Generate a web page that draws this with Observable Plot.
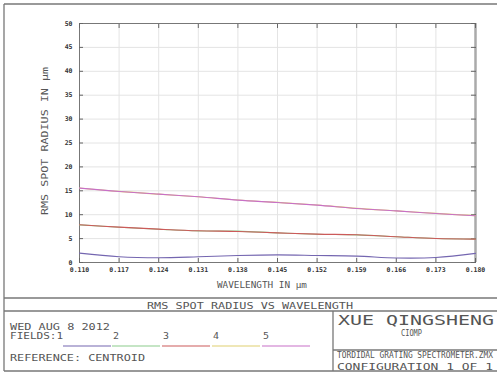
<!DOCTYPE html>
<html><head><meta charset="utf-8">
<script src="https://cdn.jsdelivr.net/npm/d3@7"></script>
<script src="https://cdn.jsdelivr.net/npm/@observablehq/plot@0.6"></script>
<style>body{margin:0;background:#fff} svg{display:block}</style>
</head><body><div id="chart"></div>
<script>
const wavelengths = [0.110,0.117,0.124,0.131,0.138,0.145,0.152,0.159,0.166,0.173,0.180];
const field1 = [1.96,1.2,1.0,1.2,1.47,1.6,1.47,1.33,0.95,1.05,1.9];
const field2 = [7.87,7.38,6.97,6.6,6.56,6.2,5.92,5.78,5.4,5.03,4.9];
const field3 = [7.89,7.4,6.98,6.63,6.49,6.2,5.93,5.8,5.4,5.03,4.9];
const field4 = [15.6,14.87,14.3,13.74,13.08,12.57,12.02,11.33,10.8,10.27,9.8];
const field5 = [15.56,14.85,14.3,13.75,13.05,12.55,12.0,11.3,10.8,10.25,9.77];
const fieldNames = ["1","2","3","4","5"];
const fieldColors = ["#7466b0","#8ccc8c","#cc5a5a","#e0d070","#c870c8"];
const yTicks = [0,5,10,15,20,25,30,35,40,45,50];
const titleText = "RMS SPOT RADIUS VS WAVELENGTH";
const xLabel = "WAVELENGTH IN μm";
const yLabel = "RMS SPOT RADIUS IN μm";

const series = [field1, field2, field3, field4, field5];
const rows = [];
series.forEach((vals, i) => vals.forEach((v, j) => rows.push({field: fieldNames[i], w: wavelengths[j], r: v})));

const font = "DejaVu Sans Mono";
const W = 497, H = 377;
const chart = Plot.plot({
  width: W, height: H,
  marginLeft: 79, marginRight: 22, marginTop: 23, marginBottom: 115,
  style: {fontFamily: font, fontSize: "6.5px", fontWeight: "bold", color: "#333", background: "#fff"},
  x: {domain: [0.110, 0.180], label: null},
  y: {domain: [0, 50], label: null},
  color: {domain: fieldNames, range: fieldColors},
  marks: [
    Plot.gridX(wavelengths, {stroke: "#e4e4e4", strokeOpacity: 1}),
    Plot.gridY(yTicks, {stroke: "#e4e4e4", strokeOpacity: 1}),
    Plot.frame({stroke: "#777"}),
    Plot.ruleX([0.180], {stroke: "#aaa", strokeWidth: 2.5}),
    Plot.axisX(wavelengths, {anchor: "bottom", tickSize: 0, tickPadding: 4.5, tickFormat: d3.format(".3f"), label: null}),
    Plot.axisX(wavelengths, {anchor: "bottom", tickSize: -4, text: null, stroke: "#666", label: null}),
    Plot.axisX(wavelengths, {anchor: "top", tickSize: -4, text: null, stroke: "#666", label: null}),
    Plot.axisY(yTicks, {anchor: "left", tickSize: 0, tickPadding: 7, label: null}),
    Plot.axisY(yTicks, {anchor: "left", tickSize: -4, text: null, stroke: "#666", label: null}),
    Plot.axisY(yTicks, {anchor: "right", tickSize: -5, text: null, stroke: "#666", label: null}),
    Plot.line(rows, {x: "w", y: "r", z: "field", stroke: "field", strokeWidth: 1.1, curve: "catmull-rom"})
  ]
});
document.getElementById("chart").append(chart);

const svg = d3.select(chart);
const g = svg.append("g").attr("font-family", font).attr("fill", "#555")
  .attr("text-anchor", "start").attr("font-weight", "normal");
function label(str, x, y, size, len, rotate) {
  const t = g.append("text").text(str)
    .attr("font-size", size)
    .attr("textLength", len).attr("lengthAdjust", "spacingAndGlyphs");
  if (rotate) t.attr("transform", `translate(${x},${y}) rotate(-90)`);
  else t.attr("x", x).attr("y", y);
  return t;
}
// frame lines
const lc = "#777";
const lines = [[4,4,497,4],[4,4,4,371],[4,371,497,371],[4,298,497,298],[4,311,497,311],[333,311,333,371],[333,350,497,350]];
g.selectAll("line.f").data(lines).join("line").attr("class","f")
  .attr("x1", d=>d[0]).attr("y1", d=>d[1]).attr("x2", d=>d[2]).attr("y2", d=>d[3])
  .attr("stroke", lc).attr("stroke-width", 1.3);

label(titleText, 147, 308.5, 9.4, 206);
label(xLabel, 217, 288, 8.2, 90);
label(yLabel, 48, 215, 9.4, 148, true);
label("WED AUG 8 2012", 10, 330, 8, 100);
label("FIELDS:1", 10, 339, 8, 53);
const legX = [63, 112, 162, 212, 262];
fieldNames.slice(1).forEach((n, i) => label(n, legX[i+1] + 1, 339, 8, 6));
fieldNames.forEach((n, i) => g.append("line")
  .attr("x1", legX[i]).attr("x2", legX[i] + 48).attr("y1", 346).attr("y2", 346)
  .attr("stroke", fieldColors[i]).attr("stroke-width", 1.2));
label("REFERENCE: CENTROID", 10, 361, 9, 135);
label("XUE QINGSHENG", 338, 325, 13.7, 156);
label("CIOMP", 401, 336, 8, 21);
label("TORDIDAL GRATING SPECTROMETER.ZMX", 337, 358, 8, 156);
label("CONFIGURATION 1 OF 1", 337, 370, 9.4, 156);
</script></body></html>
